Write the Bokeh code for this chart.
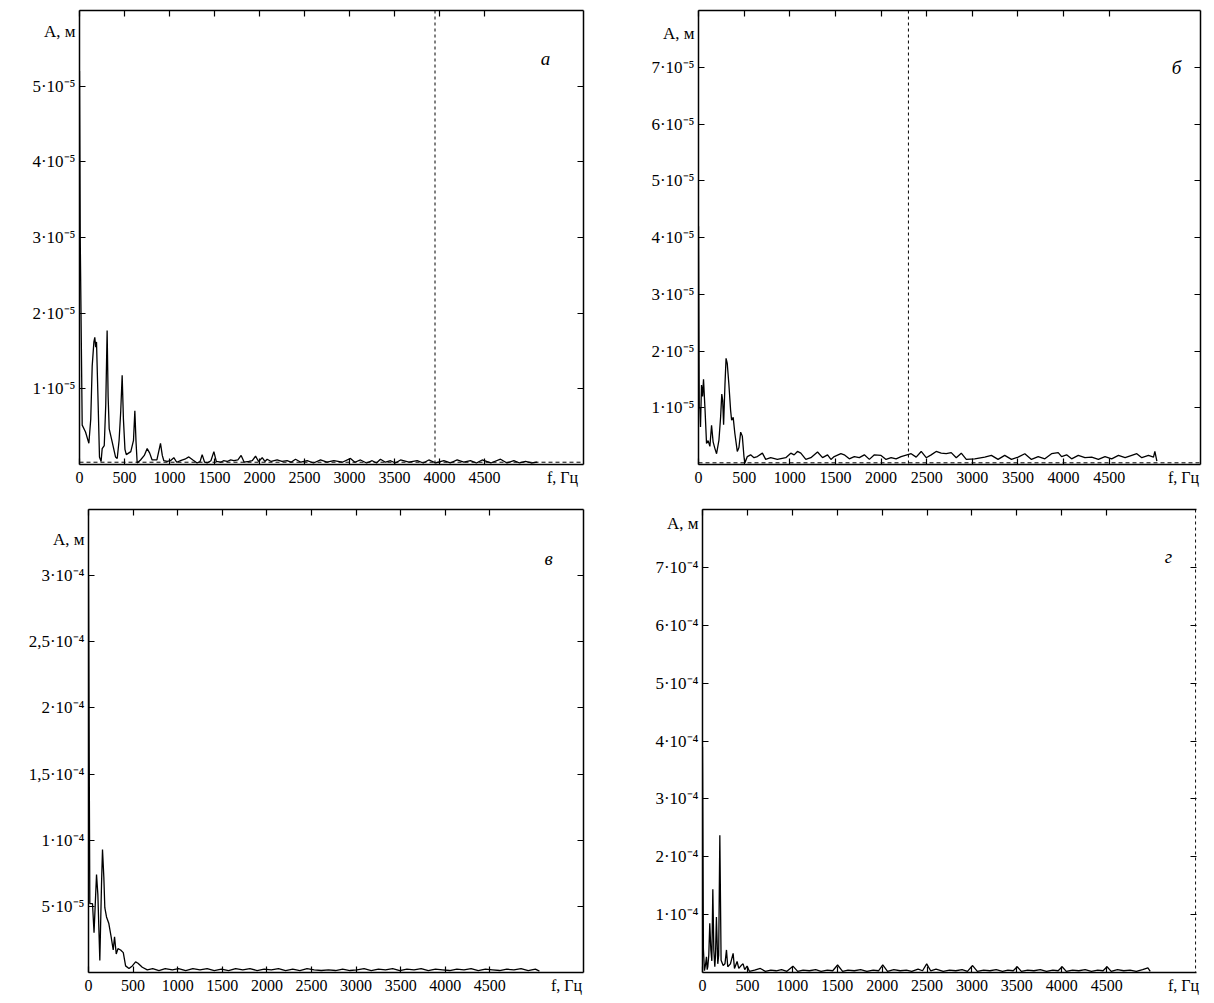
from bokeh.plotting import figure
from bokeh.models import Range1d, FixedTicker, LinearAxis, Span, Label
from bokeh.layouts import column, row
from bokeh.embed import file_html
from bokeh.resources import INLINE

FONT = "Liberation Serif"

# ---------------- shared x axis ----------------
x_ticks = [0, 500, 1000, 1500, 2000, 2500, 3000, 3500, 4000, 4500]
x_tick_labels = ["0", "500", "1000", "1500", "2000", "2500", "3000", "3500", "4000", "4500"]
x_caption = "f, Гц"
y_caption = "A, м"

# ---------------- panel а (amplitude in units of 1e-5 m) ----------------
freq_a = [0, 8, 30, 67, 104, 125, 141, 160, 170, 180,
          189, 205, 222, 240, 252, 275, 292, 307, 318, 330,
          363, 400, 419, 440, 458, 474, 488, 505, 520, 570,
          600, 615, 628, 641, 678, 720, 752, 780, 807, 860,
          900, 920, 937, 974, 1010, 1048, 1080, 1122, 1170, 1215,
          1260, 1307, 1340, 1363, 1390, 1419, 1460, 1493, 1520, 1567,
          1600, 1641, 1680, 1715, 1760, 1796, 1830, 1881, 1920, 1956,
          1990, 2030, 2060, 2085, 2130, 2196, 2250, 2307, 2350, 2400,
          2460, 2530, 2600, 2678, 2750, 2826, 2920, 3011, 3060, 3122,
          3190, 3252, 3300, 3344, 3400, 3456, 3510, 3567, 3660, 3752,
          3820, 3881, 3960, 4048, 4120, 4196, 4270, 4344, 4410, 4474,
          4570, 4678, 4750, 4826, 4890, 4956, 5020, 5085]
amp_a = [5.2, 3.0, 0.52, 0.43, 0.28, 0.6, 1.3, 1.62, 1.68, 1.55,
         1.62, 0.9, 0.1, 0.04, 0.21, 0.25, 0.8, 1.77, 0.9, 0.47,
         0.3, 0.1, 0.08, 0.32, 0.7, 1.18, 0.6, 0.2, 0.13, 0.17,
         0.32, 0.71, 0.3, 0.02, 0.06, 0.12, 0.21, 0.15, 0.06, 0.06,
         0.28, 0.12, 0.05, 0.04, 0.05, 0.09, 0.03, 0.05, 0.07, 0.1,
         0.06, 0.02, 0.04, 0.13, 0.03, 0.02, 0.05, 0.17, 0.04, 0.03,
         0.05, 0.04, 0.06, 0.05, 0.06, 0.12, 0.03, 0.04, 0.05, 0.11,
         0.04, 0.09, 0.04, 0.07, 0.04, 0.06, 0.04, 0.05, 0.03, 0.07,
         0.03, 0.05, 0.02, 0.06, 0.03, 0.05, 0.03, 0.08, 0.03, 0.06,
         0.02, 0.05, 0.02, 0.07, 0.03, 0.05, 0.02, 0.06, 0.03, 0.05,
         0.02, 0.06, 0.02, 0.05, 0.02, 0.06, 0.03, 0.05, 0.02, 0.06,
         0.02, 0.07, 0.02, 0.05, 0.02, 0.04, 0.02, 0.03]
noise_freq_a = [0, 5600]
noise_a = [0.03, 0.03]
cutoff_a = 3950
yticks_a = [1, 2, 3, 4, 5]
ylabels_a = ["1·10⁻⁵", "2·10⁻⁵", "3·10⁻⁵", "4·10⁻⁵", "5·10⁻⁵"]

# ---------------- panel б (amplitude in units of 1e-5 m) ----------------
freq_b = [0, 8, 15, 22, 33, 45, 55, 72, 88, 105,
          125, 143, 160, 180, 198, 224, 242, 255, 265, 275,
          290, 302, 315, 333, 352, 363, 380, 398, 425, 443,
          462, 480, 498, 509, 535, 571, 608, 645, 700, 736,
          791, 864, 956, 1011, 1048, 1084, 1121, 1176, 1231, 1304,
          1359, 1414, 1451, 1487, 1560, 1597, 1652, 1707, 1762, 1817,
          1872, 1927, 2000, 2055, 2110, 2165, 2220, 2330, 2385, 2440,
          2495, 2549, 2604, 2659, 2714, 2769, 2824, 2879, 2934, 3026,
          3136, 3209, 3282, 3355, 3429, 3502, 3575, 3648, 3722, 3795,
          3868, 3941, 3978, 4033, 4088, 4161, 4234, 4308, 4381, 4454,
          4527, 4601, 4674, 4747, 4802, 4857, 4930, 4985, 5000, 5022]
amp_b = [4.2, 1.0, 1.0, 0.66, 1.4, 1.2, 1.5, 0.95, 0.37, 0.42,
         0.32, 0.69, 0.4, 0.28, 0.19, 0.43, 0.83, 1.24, 1.13, 0.7,
         1.41, 1.87, 1.78, 1.41, 0.95, 0.78, 0.83, 0.55, 0.23, 0.3,
         0.57, 0.5, 0.14, 0.03, 0.14, 0.17, 0.12, 0.14, 0.2, 0.09,
         0.12, 0.09, 0.12, 0.2, 0.17, 0.23, 0.2, 0.09, 0.12, 0.22,
         0.12, 0.17, 0.09, 0.14, 0.19, 0.17, 0.1, 0.14, 0.12, 0.17,
         0.09, 0.17, 0.16, 0.09, 0.12, 0.1, 0.14, 0.19, 0.13, 0.23,
         0.12, 0.17, 0.23, 0.2, 0.19, 0.21, 0.12, 0.2, 0.09, 0.1,
         0.13, 0.16, 0.09, 0.16, 0.09, 0.13, 0.19, 0.09, 0.14, 0.1,
         0.19, 0.21, 0.14, 0.17, 0.1, 0.16, 0.12, 0.13, 0.09, 0.14,
         0.1, 0.16, 0.12, 0.16, 0.19, 0.12, 0.16, 0.13, 0.23, 0.06]
noise_freq_b = [0, 5500]
noise_b = [0.03, 0.03]
cutoff_b = 2300
yticks_b = [1, 2, 3, 4, 5, 6, 7]
ylabels_b = ["1·10⁻⁵", "2·10⁻⁵", "3·10⁻⁵", "4·10⁻⁵", "5·10⁻⁵", "6·10⁻⁵", "7·10⁻⁵"]

# ---------------- panel в (amplitude in units of 1e-4 m) ----------------
freq_c = [0, 8, 15, 45, 62, 90, 105, 127, 146, 157,
          172, 183, 202, 228, 254, 277, 292, 311, 330, 360,
          390, 416, 454, 491, 528, 555, 603, 659, 720, 790,
          860, 940, 1010, 1090, 1170, 1250, 1330, 1410, 1490, 1570,
          1650, 1730, 1810, 1890, 1970, 2050, 2130, 2210, 2290, 2370,
          2450, 2530, 2610, 2690, 2770, 2850, 2930, 3010, 3090, 3170,
          3250, 3330, 3410, 3490, 3570, 3650, 3730, 3810, 3890, 3970,
          4050, 4130, 4210, 4290, 4370, 4450, 4530, 4610, 4690, 4770,
          4850, 4930, 5010, 5056]
amp_c = [3.0, 1.6, 0.52, 0.52, 0.3, 0.74, 0.59, 0.09, 0.67, 0.93,
         0.72, 0.49, 0.42, 0.37, 0.27, 0.17, 0.27, 0.14, 0.18, 0.17,
         0.15, 0.05, 0.03, 0.05, 0.08, 0.07, 0.04, 0.02, 0.03, 0.015,
         0.03, 0.02, 0.03, 0.015, 0.03, 0.02, 0.03, 0.015, 0.025, 0.015,
         0.03, 0.02, 0.03, 0.015, 0.025, 0.02, 0.03, 0.015, 0.025, 0.015,
         0.03, 0.02, 0.015, 0.02, 0.015, 0.025, 0.015, 0.02, 0.03, 0.015,
         0.025, 0.02, 0.03, 0.015, 0.025, 0.02, 0.03, 0.015, 0.025, 0.02,
         0.015, 0.025, 0.02, 0.03, 0.015, 0.025, 0.02, 0.015, 0.025, 0.02,
         0.03, 0.015, 0.025, 0.01]
yticks_c = [0.5, 1, 1.5, 2, 2.5, 3]
ylabels_c = ["5·10⁻⁵", "1·10⁻⁴", "1,5·10⁻⁴", "2·10⁻⁴", "2,5·10⁻⁴", "3·10⁻⁴"]

# ---------------- panel г (amplitude in units of 1e-4 m) ----------------
freq_d = [0, 10, 22, 35, 44, 52, 59, 70, 81, 93,
          104, 115, 126, 137, 145, 155, 170, 180, 193, 207,
          230, 250, 267, 281, 311, 341, 356, 385, 404, 430,
          452, 470, 496, 522, 580, 644, 700, 760, 820, 880,
          940, 1007, 1060, 1120, 1190, 1260, 1320, 1390, 1450, 1504,
          1560, 1620, 1690, 1760, 1830, 1900, 1960, 2007, 2060, 2130,
          2200, 2270, 2330, 2400, 2450, 2496, 2540, 2600, 2680, 2750,
          2820, 2890, 2950, 3007, 3060, 3130, 3200, 3270, 3340, 3400,
          3460, 3504, 3550, 3620, 3690, 3760, 3830, 3900, 3960, 4004,
          4050, 4120, 4190, 4260, 4330, 4400, 4460, 4504, 4550, 4620,
          4690, 4760, 4830, 4900, 4959, 4985]
amp_d = [3.9, 0.4, 0.03, 0.15, 0.27, 0.05, 0.1, 0.3, 0.85, 0.39,
         0.2, 1.44, 0.39, 0.1, 0.3, 0.96, 0.15, 0.3, 2.37, 0.21,
         0.12, 0.15, 0.39, 0.1, 0.15, 0.33, 0.07, 0.19, 0.07, 0.12,
         0.15, 0.05, 0.11, 0.02, 0.04, 0.07, 0.02, 0.04, 0.03, 0.05,
         0.02, 0.11, 0.02, 0.04, 0.03, 0.05, 0.02, 0.04, 0.03, 0.13,
         0.02, 0.04, 0.03, 0.05, 0.02, 0.04, 0.03, 0.13, 0.02, 0.05,
         0.03, 0.04, 0.02, 0.06, 0.03, 0.15, 0.03, 0.06, 0.02, 0.04,
         0.03, 0.05, 0.02, 0.12, 0.02, 0.04, 0.03, 0.05, 0.02, 0.04,
         0.03, 0.1, 0.02, 0.04, 0.03, 0.05, 0.02, 0.04, 0.03, 0.1,
         0.02, 0.04, 0.03, 0.05, 0.02, 0.04, 0.03, 0.1, 0.02, 0.05,
         0.03, 0.04, 0.02, 0.05, 0.08, 0.02]
cutoff_d = 5490
yticks_d = [1, 2, 3, 4, 5, 6, 7]
ylabels_d = ["1·10⁻⁴", "2·10⁻⁴", "3·10⁻⁴", "4·10⁻⁴", "5·10⁻⁴", "6·10⁻⁴", "7·10⁻⁴"]

for fr, am in [(freq_a, amp_a), (freq_b, amp_b), (freq_c, amp_c), (freq_d, amp_d)]:
    assert len(fr) == len(am), (len(fr), len(am))


def labelled_axis(ax, ticks, labels, caption_pos, caption, size):
    # labels (and the caption) sit on major ticks whose marks are hidden;
    # the visible inward tick marks are drawn as minor ticks at the same positions
    ax.ticker = FixedTicker(ticks=list(ticks) + [caption_pos], minor_ticks=list(ticks))
    ax.major_label_overrides = dict(zip(list(ticks) + [caption_pos], list(labels) + [caption]))
    ax.major_tick_line_color = None
    ax.major_tick_in = 0
    ax.major_tick_out = 0
    ax.minor_tick_in = 6
    ax.minor_tick_out = 0
    ax.minor_tick_line_color = "black"
    ax.minor_tick_line_width = 1.2
    ax.axis_line_color = "black"
    ax.axis_line_width = 1.5
    ax.major_label_text_font = FONT
    ax.major_label_text_font_size = size
    ax.major_label_text_color = "black"
    ax.major_label_standoff = 4


def plain_axis(ax, ticks):
    ax.ticker = FixedTicker(ticks=[], minor_ticks=list(ticks))
    ax.major_tick_line_color = None
    ax.major_tick_in = 0
    ax.major_tick_out = 0
    ax.minor_tick_in = 6
    ax.minor_tick_out = 0
    ax.minor_tick_line_color = "black"
    ax.minor_tick_line_width = 1.2
    ax.axis_line_color = "black"
    ax.axis_line_width = 1.5
    ax.major_label_text_font_size = "0px"
    ax.major_label_standoff = 0


def panel(freq, amp, f_max, y_max, yticks, ylabels, letter, w, h, borders,
          a_dy, letter_off, f_dx, noise=None, cutoff=None, dashed_right=False):
    bl, br, bt, bb = borders
    frame_w = w - bl - br
    frame_h = h - bt - bb
    p = figure(width=w, height=h, x_range=Range1d(0, f_max), y_range=Range1d(0, y_max),
               output_backend="svg", toolbar_location=None,
               min_border_left=bl, min_border_right=br, min_border_top=bt, min_border_bottom=bb)
    p.title.visible = False
    p.grid.visible = False
    p.outline_line_color = None
    p.background_fill_color = "white"
    p.border_fill_color = "white"

    x_cap = f_max * (1 - f_dx / frame_w)
    y_cap = y_max * (1 - a_dy / frame_h)
    labelled_axis(p.xaxis[0], x_ticks, x_tick_labels, x_cap, x_caption, "16px")
    labelled_axis(p.yaxis[0], yticks, ylabels, y_cap, y_caption, "17px")
    top = LinearAxis()
    plain_axis(top, x_ticks)
    p.add_layout(top, "above")
    right = LinearAxis()
    plain_axis(right, yticks)
    if dashed_right:
        right.axis_line_color = None
    p.add_layout(right, "right")

    if noise is not None:
        p.line(noise[0], noise[1], line_color="black", line_width=1.0, line_dash="4 3")
    if cutoff is not None:
        p.add_layout(Span(location=cutoff, dimension="height", line_color="black",
                          line_width=1.0, line_dash="3 3"))
    p.line(freq, amp, line_color="black", line_width=1.3)

    p.add_layout(Label(x=f_max, y=y_max, x_offset=-letter_off[0], y_offset=-letter_off[1],
                       text=letter, text_align="center", text_baseline="middle",
                       text_font=FONT, text_font_size="19px", text_font_style="italic",
                       text_color="black"))
    return p


pa = panel(freq_a, amp_a, 5600, 6, yticks_a, ylabels_a, "а", 607, 500, (79, 24, 10, 36),
           21, (38, 48), 21, noise=(noise_freq_a, noise_a), cutoff=cutoff_a)
pb = panel(freq_b, amp_b, 5500, 8, yticks_b, ylabels_b, "б", 607, 500, (91, 14, 3, 35),
           23, (24, 57), 17, noise=(noise_freq_b, noise_b), cutoff=cutoff_b)
pc = panel(freq_c, amp_c, 5550, 3.5, yticks_c, ylabels_c, "в", 607, 503, (88, 24, 7, 31),
           30, (35, 49), 17)
pd = panel(freq_d, amp_d, 5500, 8, yticks_d, ylabels_d, "г", 607, 503, (95, 18, 9, 31),
           14, (28, 47), 13, cutoff=cutoff_d, dashed_right=True)

layout = column(row(pa, pb), row(pc, pd))
open("out.html", "w").write(file_html(layout, INLINE))
